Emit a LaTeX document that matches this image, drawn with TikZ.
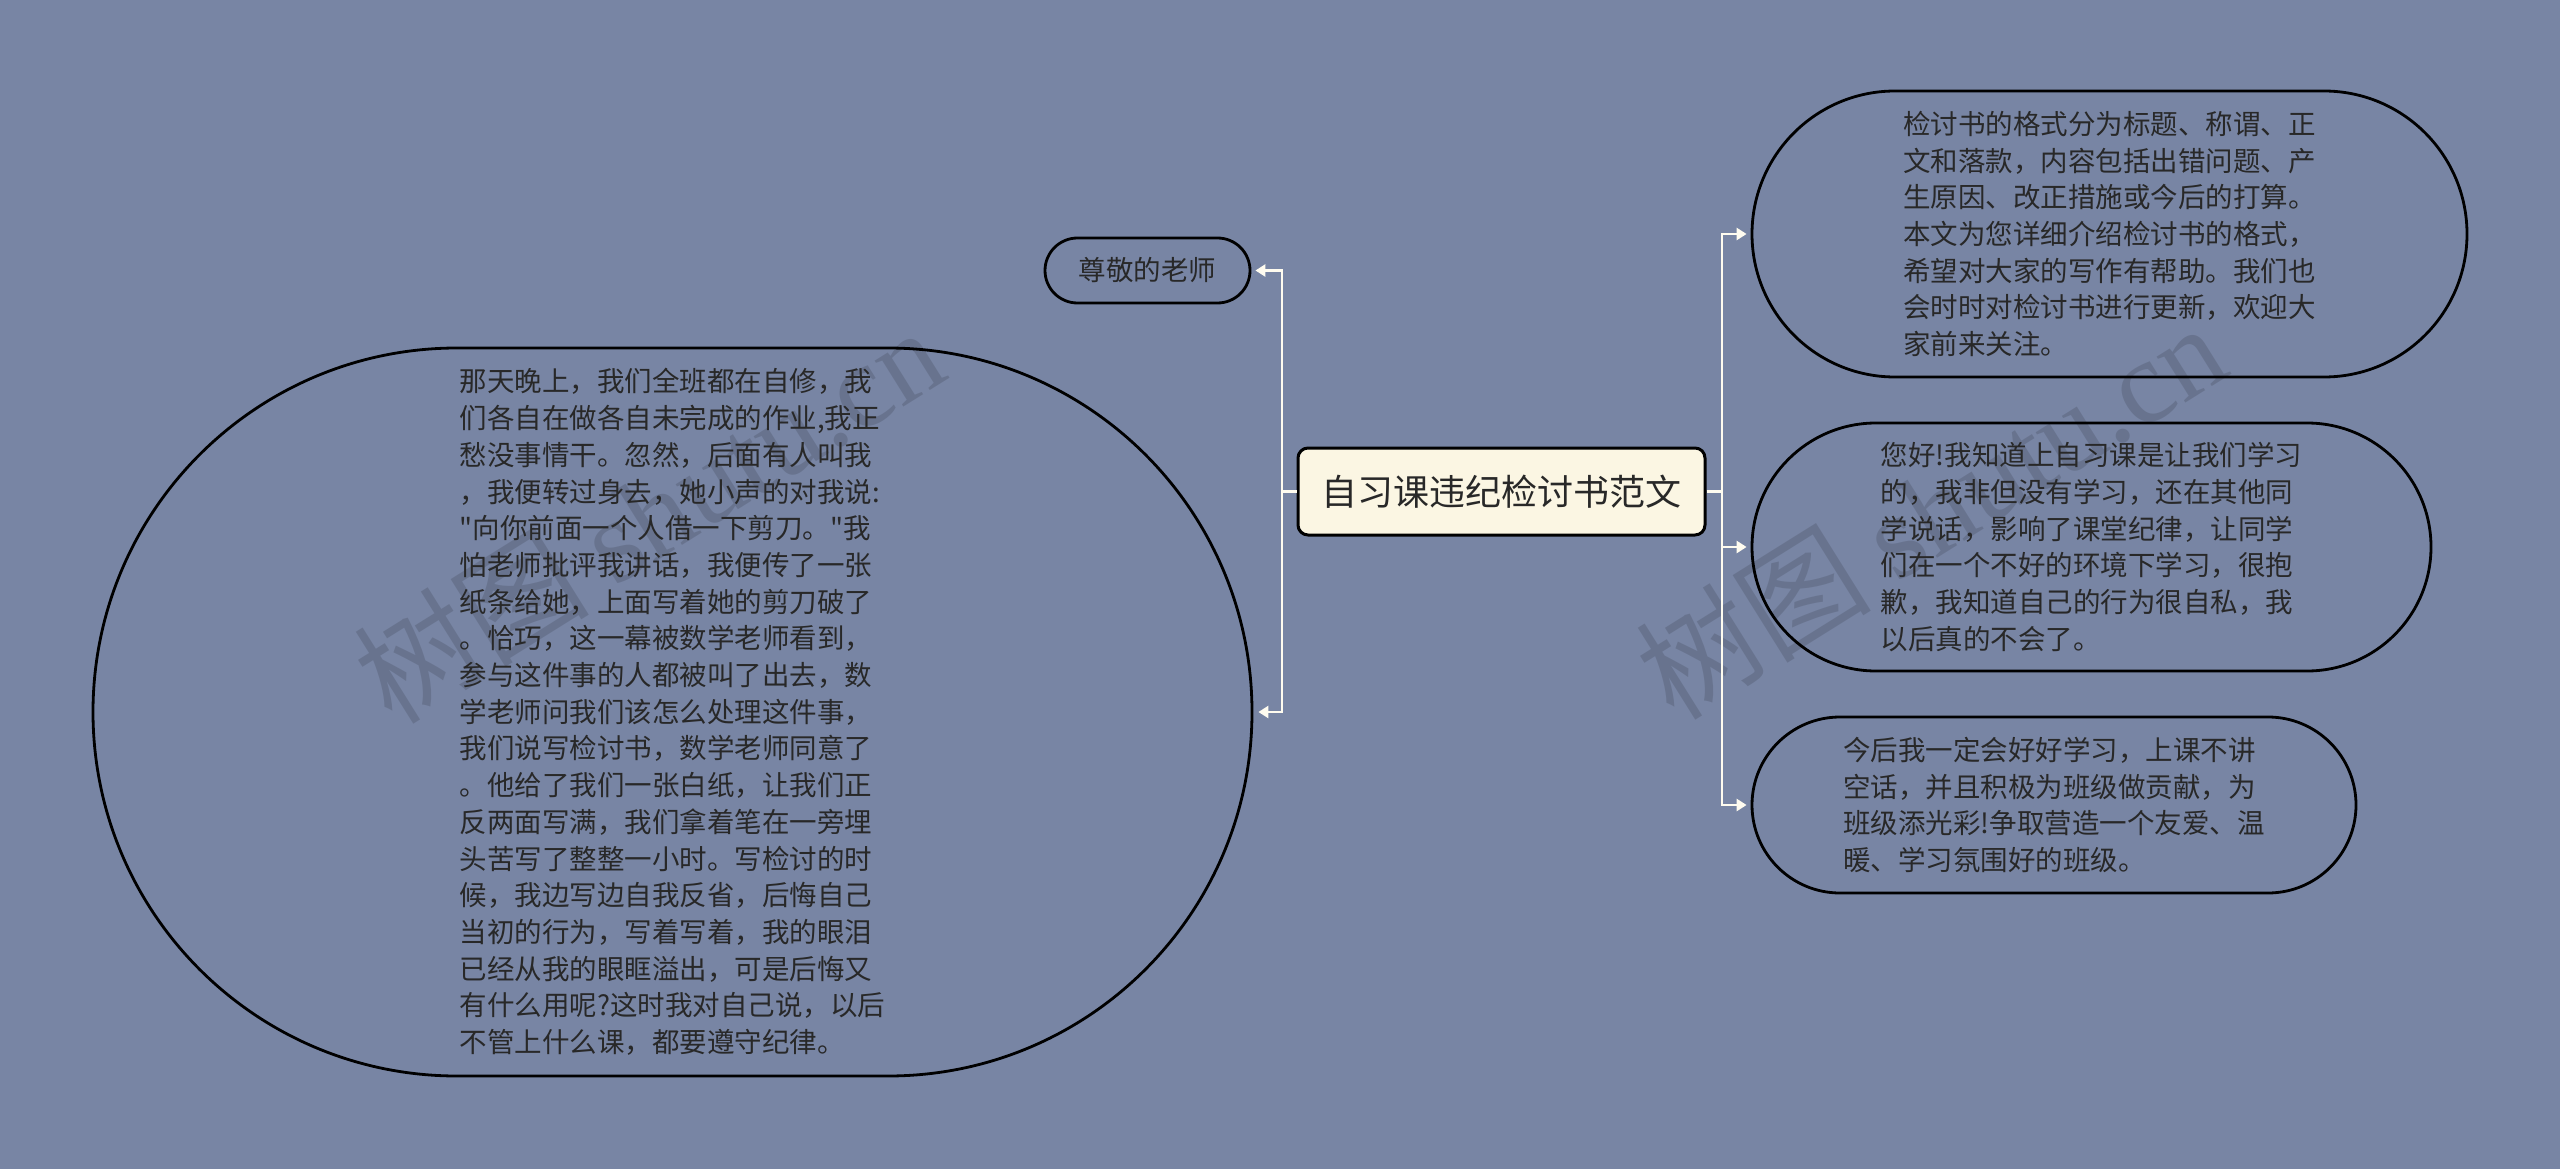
\documentclass[tikz,border=0pt]{standalone}
\usepackage{fontspec}
\setmainfont{Noto Sans CJK SC}[Ligatures=TeXOff]
\newfontfamily\wmlatin{Liberation Serif}
\usetikzlibrary{shapes.misc,arrows.meta}
\definecolor{bg}{RGB}{120,133,164}
\definecolor{cream}{RGB}{251,246,227}
\definecolor{txt}{RGB}{40,40,40}
\definecolor{linec}{RGB}{255,252,240}
\begin{document}
\begin{tikzpicture}[x=1pt,y=-1pt,
  pill/.style={draw=black, line width=2.8pt, rounded rectangle, inner xsep=0pt, inner ysep=0pt, align=left, text=txt, font=\fontsize{27.5}{36.7}\selectfont},
  mainbox/.style={draw=black, line width=3pt, fill=cream, rounded corners=10pt, inner sep=0pt, text=txt, font=\fontsize{36}{40}\selectfont},
  conn/.style={draw=linec, line width=2.6pt},
  arr/.style={conn, -{Triangle[length=10pt,width=12pt]}},
  wm/.style={text=black, opacity=0.13, rotate=32, font=\fontsize{118}{118}\selectfont}]
\fill[bg] (0,0) rectangle (2560,1169);
\useasboundingbox (0,0) rectangle (2560,1169);

\node[wm] (wm1) at (648,514) {树图 {\wmlatin shutu.cn}};
\node[wm] (wm2) at (1930,510) {树图 {\wmlatin shutu.cn}};

\node[mainbox, minimum width=407pt, minimum height=87pt] (main) at (1501.5,491.5) {自习课违纪检讨书范文};

\node[pill, minimum width=205pt, minimum height=65pt] (teacher) at (1147.5,270.5) {尊敬的老师};

\node[pill, minimum width=1159pt, minimum height=728pt] (story) at (672.5,712) {那天晚上，我们全班都在自修，我\\
们各自在做各自未完成的作业,我正\\
愁没事情干。忽然，后面有人叫我\\
，我便转过身去，她小声的对我说:\\
"向你前面一个人借一下剪刀。"我\\
怕老师批评我讲话，我便传了一张\\
纸条给她，上面写着她的剪刀破了\\
。恰巧，这一幕被数学老师看到，\\
参与这件事的人都被叫了出去，数\\
学老师问我们该怎么处理这件事，\\
我们说写检讨书，数学老师同意了\\
。他给了我们一张白纸，让我们正\\
反两面写满，我们拿着笔在一旁埋\\
头苦写了整整一小时。写检讨的时\\
候，我边写边自我反省，后悔自己\\
当初的行为，写着写着，我的眼泪\\
已经从我的眼眶溢出，可是后悔又\\
有什么用呢?这时我对自己说，以后\\
不管上什么课，都要遵守纪律。};

\node[pill, minimum width=715pt, minimum height=286pt] (fmt) at (2109.5,234) {检讨书的格式分为标题、称谓、正\\
文和落款，内容包括出错问题、产\\
生原因、改正措施或今后的打算。\\
本文为您详细介绍检讨书的格式，\\
希望对大家的写作有帮助。我们也\\
会时时对检讨书进行更新，欢迎大\\
家前来关注。};

\node[pill, minimum width=679pt, minimum height=248pt] (apology) at (2091.5,547) {您好!我知道上自习课是让我们学习\\
的，我非但没有学习，还在其他同\\
学说话，影响了课堂纪律，让同学\\
们在一个不好的环境下学习，很抱\\
歉，我知道自己的行为很自私，我\\
以后真的不会了。};

\node[pill, minimum width=604pt, minimum height=176pt] (promise) at (2054,805) {今后我一定会好好学习，上课不讲\\
空话，并且积极为班级做贡献，为\\
班级添光彩!争取营造一个友爱、温\\
暖、学习氛围好的班级。};

\coordinate (lj) at (1282,491.5);
\coordinate (rj) at (1722,491.5);
\draw[conn] (main.west) -- (lj);
\draw[arr] (lj) |- ([xshift=4pt]teacher.east);
\draw[arr] (lj) |- ([xshift=5pt]story.east);
\draw[conn] (main.east) -- (rj);
\draw[arr] (rj) |- ([xshift=-4pt]fmt.west);
\draw[arr] (rj) |- ([xshift=-4pt]apology.west);
\draw[arr] (rj) |- ([xshift=-4pt]promise.west);
\end{tikzpicture}
\end{document}
